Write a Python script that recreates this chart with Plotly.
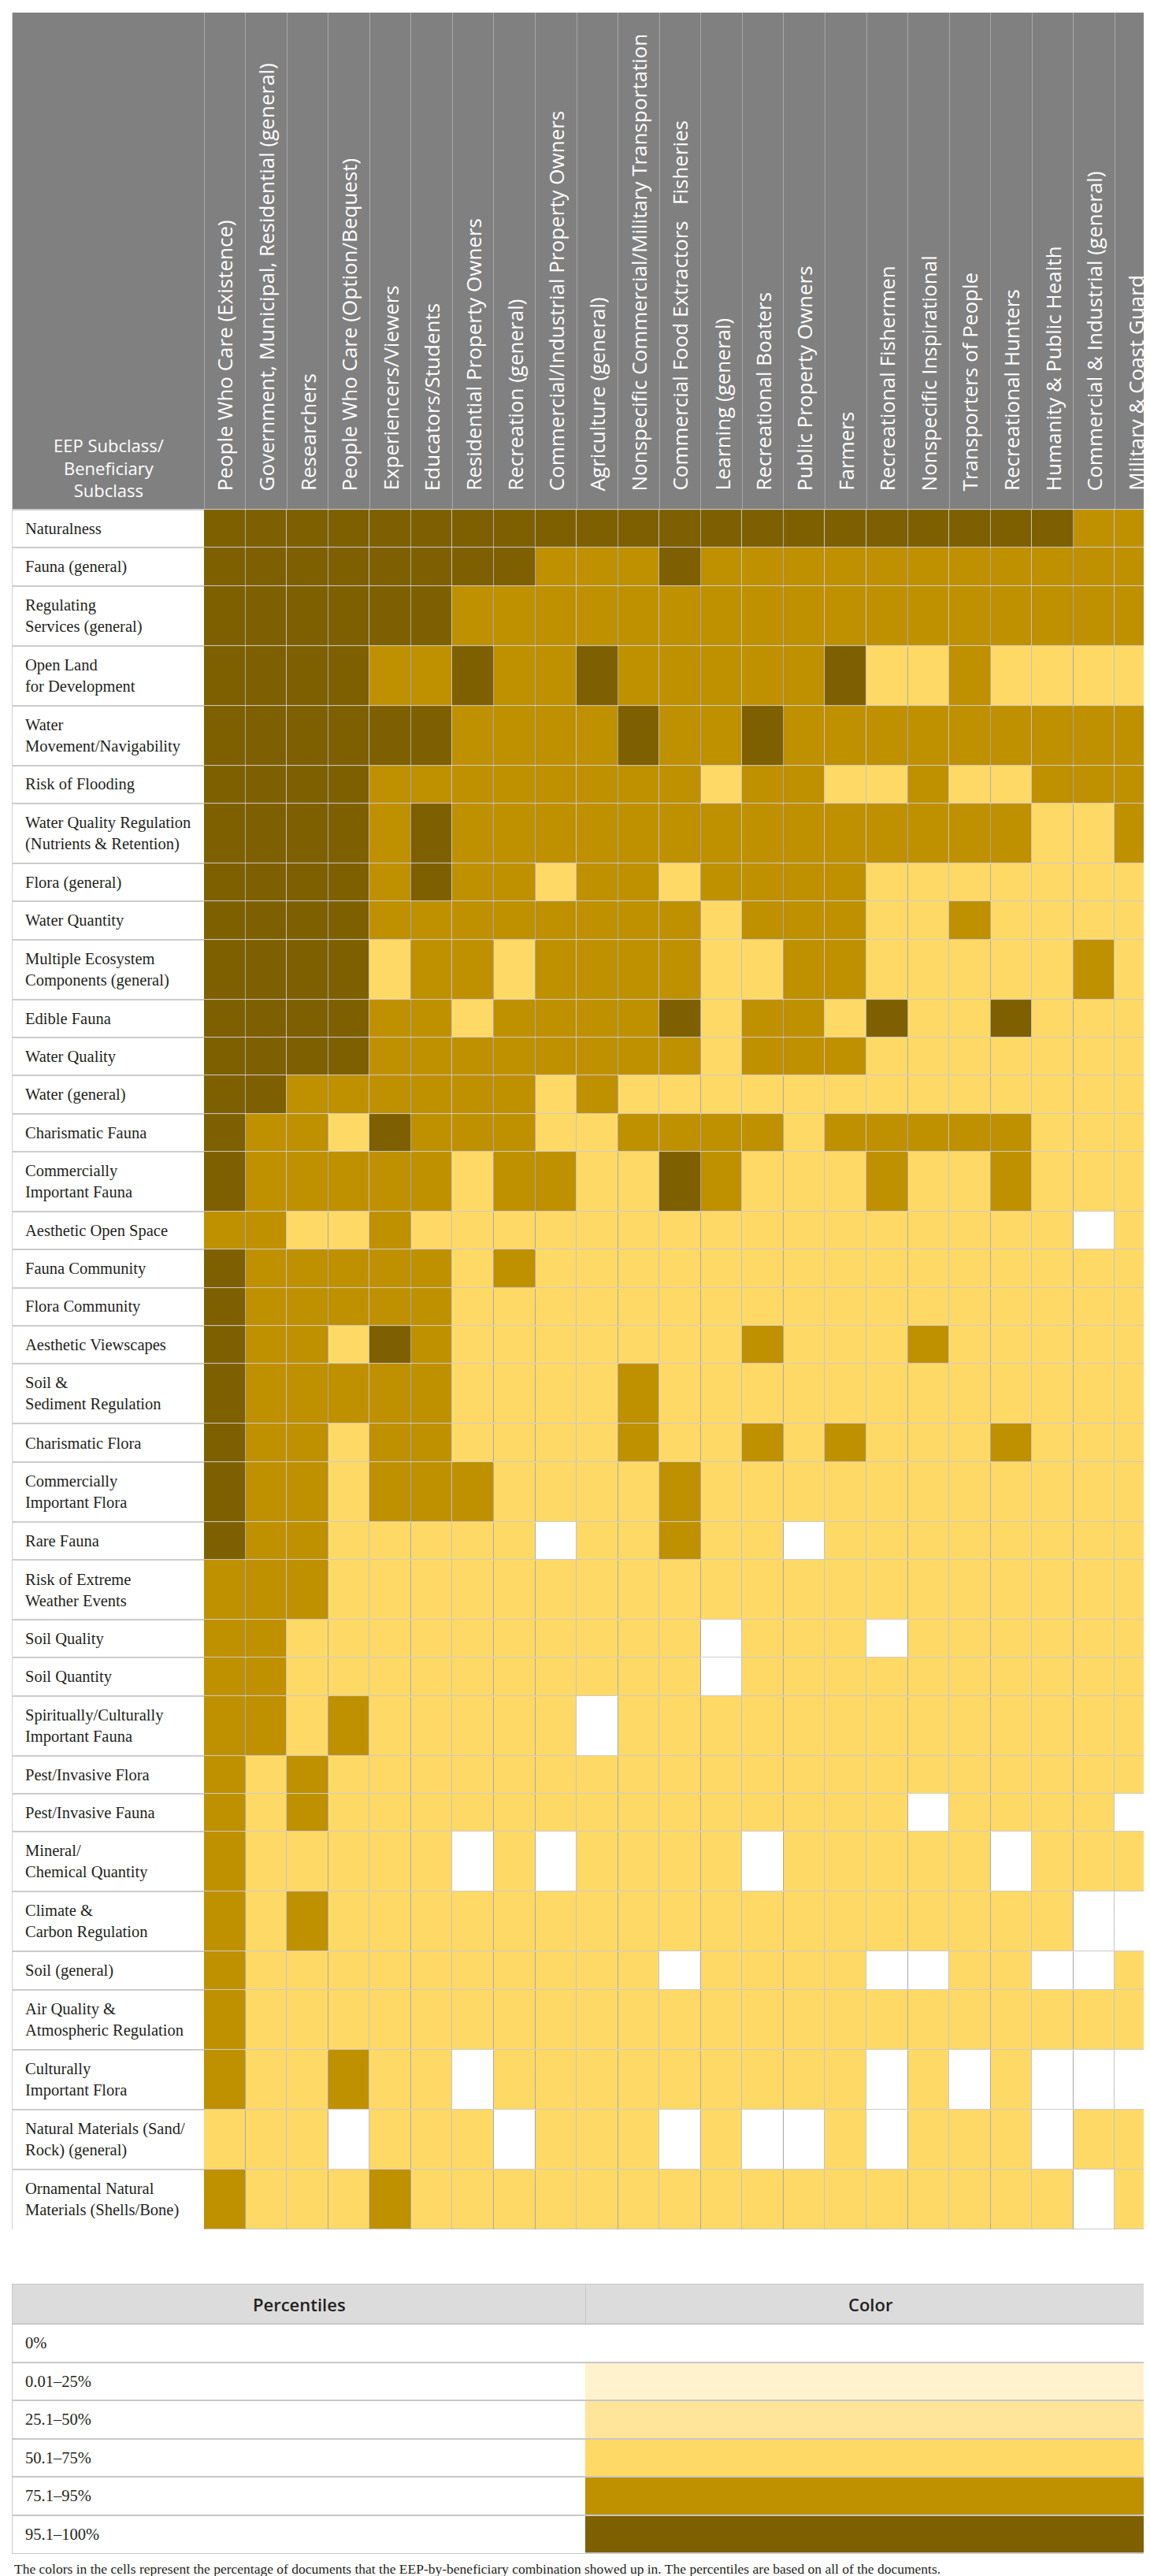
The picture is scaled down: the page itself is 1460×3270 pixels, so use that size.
import plotly.graph_objects as go

# beneficiary subclasses (columns)
beneficiaries = [
    "People Who Care (Existence)",
    "Government, Municipal, Residential (general)",
    "Researchers",
    "People Who Care (Option/Bequest)",
    "Experiencers/Viewers",
    "Educators/Students",
    "Residential Property Owners",
    "Recreation (general)",
    "Commercial/Industrial Property Owners",
    "Agriculture (general)",
    "Nonspecific Commercial/Military Transportation",
    "Commercial Food Extractors\u00a0\u00a0 Fisheries",
    "Learning (general)",
    "Recreational Boaters",
    "Public Property Owners",
    "Farmers",
    "Recreational Fishermen",
    "Nonspecific Inspirational",
    "Transporters of People",
    "Recreational Hunters",
    "Humanity & Public Health",
    "Commercial & Industrial (general)",
    "Military & Coast Guard",
]

# EEP subclasses (rows), <br> marks the line breaks of the original table
eep_subclasses = [
    "Naturalness",
    "Fauna (general)",
    "Regulating<br>Services (general)",
    "Open Land<br>for Development",
    "Water<br>Movement/Navigability",
    "Risk of Flooding",
    "Water Quality Regulation<br>(Nutrients & Retention)",
    "Flora (general)",
    "Water Quantity",
    "Multiple Ecosystem<br>Components (general)",
    "Edible Fauna",
    "Water Quality",
    "Water (general)",
    "Charismatic Fauna",
    "Commercially<br>Important Fauna",
    "Aesthetic Open Space",
    "Fauna Community",
    "Flora Community",
    "Aesthetic Viewscapes",
    "Soil &<br>Sediment Regulation",
    "Charismatic Flora",
    "Commercially<br>Important Flora",
    "Rare Fauna",
    "Risk of Extreme<br>Weather Events",
    "Soil Quality",
    "Soil Quantity",
    "Spiritually/Culturally<br>Important Fauna",
    "Pest/Invasive Flora",
    "Pest/Invasive Fauna",
    "Mineral/<br>Chemical Quantity",
    "Climate &<br>Carbon Regulation",
    "Soil (general)",
    "Air Quality &<br>Atmospheric Regulation",
    "Culturally<br>Important Flora",
    "Natural Materials (Sand/<br>Rock) (general)",
    "Ornamental Natural<br>Materials (Shells/Bone)",
]

# percentile class of each cell: 0 = 0%, 1 = 0.01-25%, 2 = 25.1-50%,
# 3 = 50.1-75%, 4 = 75.1-95%, 5 = 95.1-100%
levels = [
    [5, 5, 5, 5, 5, 5, 5, 5, 5, 5, 5, 5, 5, 5, 5, 5, 5, 5, 5, 5, 5, 4, 4],
    [5, 5, 5, 5, 5, 5, 5, 5, 4, 4, 4, 5, 4, 4, 4, 4, 4, 4, 4, 4, 4, 4, 4],
    [5, 5, 5, 5, 5, 5, 4, 4, 4, 4, 4, 4, 4, 4, 4, 4, 4, 4, 4, 4, 4, 4, 4],
    [5, 5, 5, 5, 4, 4, 5, 4, 4, 5, 4, 4, 4, 4, 4, 5, 3, 3, 4, 3, 3, 3, 3],
    [5, 5, 5, 5, 5, 5, 4, 4, 4, 4, 5, 4, 4, 5, 4, 4, 4, 4, 4, 4, 4, 4, 4],
    [5, 5, 5, 5, 4, 4, 4, 4, 4, 4, 4, 4, 3, 4, 4, 3, 3, 4, 3, 3, 4, 4, 4],
    [5, 5, 5, 5, 4, 5, 4, 4, 4, 4, 4, 4, 4, 4, 4, 4, 4, 4, 4, 4, 3, 3, 4],
    [5, 5, 5, 5, 4, 5, 4, 4, 3, 4, 4, 3, 4, 4, 4, 4, 3, 3, 3, 3, 3, 3, 3],
    [5, 5, 5, 5, 4, 4, 4, 4, 4, 4, 4, 4, 3, 4, 4, 4, 3, 3, 4, 3, 3, 3, 3],
    [5, 5, 5, 5, 3, 4, 4, 3, 4, 4, 4, 4, 3, 3, 4, 4, 3, 3, 3, 3, 3, 4, 3],
    [5, 5, 5, 5, 4, 4, 3, 4, 4, 4, 4, 5, 3, 4, 4, 3, 5, 3, 3, 5, 3, 3, 3],
    [5, 5, 5, 5, 4, 4, 4, 4, 4, 4, 4, 4, 3, 4, 4, 4, 3, 3, 3, 3, 3, 3, 3],
    [5, 5, 4, 4, 4, 4, 4, 4, 3, 4, 3, 3, 3, 3, 3, 3, 3, 3, 3, 3, 3, 3, 3],
    [5, 4, 4, 3, 5, 4, 4, 4, 3, 3, 4, 4, 4, 4, 3, 4, 4, 4, 4, 4, 3, 3, 3],
    [5, 4, 4, 4, 4, 4, 3, 4, 4, 3, 3, 5, 4, 3, 3, 3, 4, 3, 3, 4, 3, 3, 3],
    [4, 4, 3, 3, 4, 3, 3, 3, 3, 3, 3, 3, 3, 3, 3, 3, 3, 3, 3, 3, 3, 0, 3],
    [5, 4, 4, 4, 4, 4, 3, 4, 3, 3, 3, 3, 3, 3, 3, 3, 3, 3, 3, 3, 3, 3, 3],
    [5, 4, 4, 4, 4, 4, 3, 3, 3, 3, 3, 3, 3, 3, 3, 3, 3, 3, 3, 3, 3, 3, 3],
    [5, 4, 4, 3, 5, 4, 3, 3, 3, 3, 3, 3, 3, 4, 3, 3, 3, 4, 3, 3, 3, 3, 3],
    [5, 4, 4, 4, 4, 4, 3, 3, 3, 3, 4, 3, 3, 3, 3, 3, 3, 3, 3, 3, 3, 3, 3],
    [5, 4, 4, 3, 4, 4, 3, 3, 3, 3, 4, 3, 3, 4, 3, 4, 3, 3, 3, 4, 3, 3, 3],
    [5, 4, 4, 3, 4, 4, 4, 3, 3, 3, 3, 4, 3, 3, 3, 3, 3, 3, 3, 3, 3, 3, 3],
    [5, 4, 4, 3, 3, 3, 3, 3, 0, 3, 3, 4, 3, 3, 0, 3, 3, 3, 3, 3, 3, 3, 3],
    [4, 4, 4, 3, 3, 3, 3, 3, 3, 3, 3, 3, 3, 3, 3, 3, 3, 3, 3, 3, 3, 3, 3],
    [4, 4, 3, 3, 3, 3, 3, 3, 3, 3, 3, 3, 0, 3, 3, 3, 0, 3, 3, 3, 3, 3, 3],
    [4, 4, 3, 3, 3, 3, 3, 3, 3, 3, 3, 3, 0, 3, 3, 3, 3, 3, 3, 3, 3, 3, 3],
    [4, 4, 3, 4, 3, 3, 3, 3, 3, 0, 3, 3, 3, 3, 3, 3, 3, 3, 3, 3, 3, 3, 3],
    [4, 3, 4, 3, 3, 3, 3, 3, 3, 3, 3, 3, 3, 3, 3, 3, 3, 3, 3, 3, 3, 3, 3],
    [4, 3, 4, 3, 3, 3, 3, 3, 3, 3, 3, 3, 3, 3, 3, 3, 3, 0, 3, 3, 3, 3, 0],
    [4, 3, 3, 3, 3, 3, 0, 3, 0, 3, 3, 3, 3, 0, 3, 3, 3, 3, 3, 0, 3, 3, 3],
    [4, 3, 4, 3, 3, 3, 3, 3, 3, 3, 3, 3, 3, 3, 3, 3, 3, 3, 3, 3, 3, 0, 0],
    [4, 3, 3, 3, 3, 3, 3, 3, 3, 3, 3, 0, 3, 3, 3, 3, 0, 0, 3, 3, 0, 0, 3],
    [4, 3, 3, 3, 3, 3, 3, 3, 3, 3, 3, 3, 3, 3, 3, 3, 3, 3, 3, 3, 3, 3, 3],
    [4, 3, 3, 4, 3, 3, 0, 3, 3, 3, 3, 3, 3, 3, 3, 3, 0, 3, 0, 3, 0, 0, 0],
    [3, 3, 3, 0, 3, 3, 3, 0, 3, 3, 3, 0, 3, 0, 0, 3, 0, 3, 3, 3, 0, 3, 3],
    [4, 3, 3, 3, 4, 3, 3, 3, 3, 3, 3, 3, 3, 3, 3, 3, 3, 3, 3, 3, 3, 0, 3],
]

legend_labels = ["0%", "0.01\u201325%", "25.1\u201350%", "50.1\u201375%", "75.1\u201395%", "95.1\u2013100%"]
legend_colors = ["#FFFFFF", "#FFF2CC", "#FFE599", "#FFD966", "#BF9000", "#7F6000"]

note = ("The colors in the cells represent the percentage of documents that the "
        "EEP-by-beneficiary combination showed up in. The percentiles are based on all of the documents.")

# page geometry (pixels)
W, H = 1460, 3270
ML, MT, MB = 8, 8, 37
plot_h = H - MT - MB
table_bottom = 2822
legend_top = 2892

LABEL_W = 243
COL_W = (W - ML - LABEL_W) / len(beneficiaries)
HEADER_H = 631
ROW_H1, ROW_H2 = 48.3, 76.05
LEG_HEAD_H = 50
LEG_ROW_H = 48.5

SERIF = "Liberation Serif"
SANS = "Open Sans"
TEXT = "#231F20"

# discrete colour scale for the 6 percentile classes
n = len(legend_colors)
colorscale = []
for i, c in enumerate(legend_colors):
    colorscale.append([i / n, c])
    colorscale.append([(i + 1) / n, c])

x_edges = [LABEL_W + i * COL_W for i in range(len(beneficiaries) + 1)]
y_edges = [HEADER_H]
for name in eep_subclasses:
    y_edges.append(y_edges[-1] + (ROW_H2 if "<br>" in name else ROW_H1))
main_h = y_edges[-1]

leg_x_split = 727
leg_y_edges = [LEG_HEAD_H + i * LEG_ROW_H for i in range(len(legend_labels) + 1)]
leg_h = leg_y_edges[-1]

fig = go.Figure()

fig.add_trace(go.Heatmap(
    x=x_edges, y=y_edges, z=levels,
    colorscale=colorscale, zmin=-0.5, zmax=n - 0.5, showscale=False,
    xgap=1, ygap=1,
    customdata=[[b for b in beneficiaries] for _ in eep_subclasses],
    hovertemplate="%{customdata}<br>class %{z}<extra></extra>",
))

fig.add_trace(go.Heatmap(
    x=[leg_x_split, W - ML], y=leg_y_edges, z=[[i] for i in range(len(legend_labels))],
    colorscale=colorscale, zmin=-0.5, zmax=n - 0.5, showscale=False,
    ygap=2, xaxis="x2", yaxis="y2", hoverinfo="skip",
))

shapes = [
    dict(type="rect", xref="x", yref="y", x0=0, x1=W - ML, y0=0, y1=HEADER_H,
         fillcolor="#808080", line_width=0, layer="below"),
    dict(type="rect", xref="x", yref="y", x0=0, x1=LABEL_W, y0=HEADER_H, y1=main_h,
         fillcolor="white", line_width=0, layer="below"),
    dict(type="rect", xref="x2", yref="y2", x0=0, x1=W - ML, y0=0, y1=LEG_HEAD_H,
         fillcolor="#DCDCDC", line_width=0, layer="below"),
    dict(type="rect", xref="x2", yref="y2", x0=0, x1=leg_x_split, y0=LEG_HEAD_H, y1=leg_h,
         fillcolor="white", line_width=0, layer="below"),
]

annotations = [
    dict(x=LABEL_W / 2, y=HEADER_H - 54, xref="x", yref="y",
         text="EEP Subclass/<br>Beneficiary<br>Subclass", showarrow=False,
         font=dict(family=SANS, size=22, color="white"), align="center"),
]
for i, b in enumerate(beneficiaries):
    annotations.append(dict(
        x=(x_edges[i] + x_edges[i + 1]) / 2, y=HEADER_H - 22, xref="x", yref="y",
        text=b, textangle=-90, showarrow=False, xanchor="center", yanchor="bottom",
        font=dict(family=SANS, size=26, color="white")))
for j, name in enumerate(eep_subclasses):
    annotations.append(dict(
        x=14, y=(y_edges[j] + y_edges[j + 1]) / 2, xref="x", yref="y",
        text=name, showarrow=False, xanchor="left", yanchor="middle", align="left",
        font=dict(family=SERIF, size=20.5, color=TEXT)))

annotations.append(dict(x=leg_x_split / 2, y=LEG_HEAD_H / 2, xref="x2", yref="y2",
                        text="Percentiles", showarrow=False,
                        font=dict(family=SANS, size=22, color=TEXT, weight=600)))
annotations.append(dict(x=(leg_x_split + W - ML) / 2, y=LEG_HEAD_H / 2, xref="x2", yref="y2",
                        text="Color", showarrow=False,
                        font=dict(family=SANS, size=22, color=TEXT, weight=600)))
for i, lab in enumerate(legend_labels):
    annotations.append(dict(
        x=14, y=(leg_y_edges[i] + leg_y_edges[i + 1]) / 2, xref="x2", yref="y2",
        text=lab, showarrow=False, xanchor="left", yanchor="middle",
        font=dict(family=SERIF, size=20.5, color=TEXT)))

annotations.append(dict(
    x=0, y=-(3253 - (H - MB)) / plot_h, xref="paper", yref="paper",
    text=note, showarrow=False, xanchor="left", yanchor="middle",
    font=dict(family=SERIF, size=17.5, color=TEXT)))

main_bottom = (H - MB - table_bottom) / plot_h
leg_top_frac = (H - MB - legend_top) / plot_h

fig.update_layout(
    width=W, height=H,
    margin=dict(l=ML, r=0, t=MT, b=MB),
    paper_bgcolor="white",
    plot_bgcolor="#C4C4C4",
    showlegend=False,
    shapes=shapes,
    annotations=annotations,
    xaxis=dict(range=[0, W - ML], domain=[0, 1], tickmode="array", tickvals=x_edges,
               showticklabels=False, ticks="", showgrid=True, gridcolor="#A8A8A8",
               gridwidth=1, zeroline=False, fixedrange=True),
    yaxis=dict(range=[main_h, 0], domain=[main_bottom, 1], tickmode="array",
               tickvals=y_edges, showticklabels=False, ticks="", showgrid=True,
               gridcolor="#CCCCCC", gridwidth=2, zeroline=False,
               showline=True, linecolor="#D0D0D0", linewidth=1, fixedrange=True),
    xaxis2=dict(range=[0, W - ML], domain=[0, 1], anchor="y2", tickmode="array",
                tickvals=[leg_x_split], showticklabels=False, ticks="", showgrid=True,
                gridcolor="#C8C8C8", zeroline=False, showline=True, mirror=True,
                linecolor="#C8C8C8", fixedrange=True),
    yaxis2=dict(range=[leg_h, 0], domain=[0, leg_top_frac], anchor="x2", tickmode="array",
                tickvals=leg_y_edges, showticklabels=False, ticks="", showgrid=True,
                gridcolor="#C8C8C8", gridwidth=2, zeroline=False, showline=True,
                mirror=True, linecolor="#C8C8C8", fixedrange=True),
)

fig.write_html("out.html")
